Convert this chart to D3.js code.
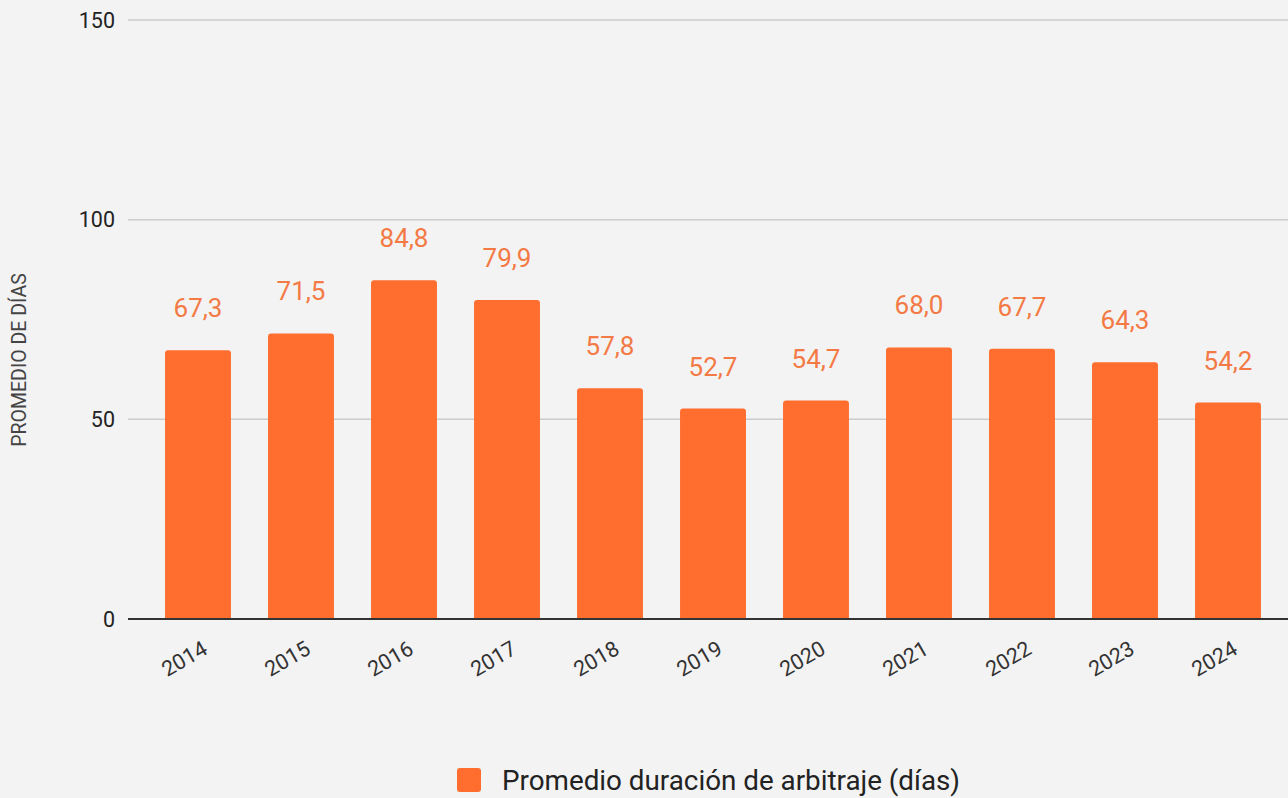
<!DOCTYPE html>
<html>
<head>
<meta charset="utf-8">
<script src="https://cdn.jsdelivr.net/npm/d3@7"></script>
<style>
  html, body { margin: 0; padding: 0; background: #f3f3f3; }
  svg { display: block; font-family: Roboto, "Noto Sans", sans-serif; }
</style>
</head>
<body>
<script>
// datos del gráfico
var years = ["2014","2015","2016","2017","2018","2019","2020","2021","2022","2023","2024"];
var avgDays = [67.3, 71.5, 84.8, 79.9, 57.8, 52.7, 54.7, 68.0, 67.7, 64.3, 54.2];
var yTicks = [0, 50, 100, 150];
var seriesName = "Promedio duración de arbitraje (días)";
var yTitle = "PROMEDIO DE DÍAS";

var width = 1288, height = 798;
var barColor = "#ff6d2f";
var labelColor = "#f47a45";

var svg = d3.select("body").append("svg")
            .attr("width", width)
            .attr("height", height);

svg.append("rect").attr("width", width).attr("height", height).attr("fill", "#f3f3f3");

var x = d3.scaleBand()
          .domain(years)
          .range([146.5, 1279.5])
          .paddingInner(0.36)
          .paddingOuter(0.18);

var y = d3.scaleLinear()
          .domain([0, 150])
          .range([619, 20]);

// lineas de cuadricula
svg.append("g").selectAll("line")
   .data(yTicks.filter(function(d){ return d > 0; }))
   .enter().append("line")
   .attr("x1", 128).attr("x2", width)
   .attr("y1", function(d){ return y(d); })
   .attr("y2", function(d){ return y(d); })
   .attr("stroke", "#cccccc")
   .attr("stroke-width", 1.5);

// etiquetas eje y
svg.append("g").selectAll("text")
   .data(yTicks)
   .enter().append("text")
   .attr("x", 115)
   .attr("y", function(d){ return y(d); })
   .attr("dy", "0.35em")
   .attr("text-anchor", "end")
   .attr("font-size", 21.5)
   .attr("fill", "#222")
   .text(function(d){ return d; });

// barras con esquinas superiores redondeadas
var r = 3;
function barPath(d, i) {
    var x0 = x(years[i]), w = x.bandwidth();
    var top = y(d), bottom = y(0);
    return "M" + x0 + "," + bottom +
           "V" + (top + r) +
           "Q" + x0 + "," + top + " " + (x0 + r) + "," + top +
           "H" + (x0 + w - r) +
           "Q" + (x0 + w) + "," + top + " " + (x0 + w) + "," + (top + r) +
           "V" + bottom + "Z";
}

svg.append("g").selectAll("path")
   .data(avgDays)
   .enter().append("path")
   .attr("d", barPath)
   .attr("fill", barColor);

// linea de base
svg.append("line")
   .attr("x1", 128).attr("x2", width)
   .attr("y1", y(0)).attr("y2", y(0))
   .attr("stroke", "#333")
   .attr("stroke-width", 2);

// etiquetas de datos
var fmt = function(v){ return v.toFixed(1).replace(".", ","); };
svg.append("g").selectAll("text")
   .data(avgDays)
   .enter().append("text")
   .attr("x", function(d, i){ return x(years[i]) + x.bandwidth() / 2; })
   .attr("y", function(d){ return y(d) - 33; })
   .attr("text-anchor", "middle")
   .attr("font-size", 26)
   .attr("fill", labelColor)
   .text(fmt);

// etiquetas eje x, rotadas
svg.append("g").selectAll("text")
   .data(years)
   .enter().append("text")
   .attr("transform", function(d){
       var cx = x(d) + x.bandwidth() / 2;
       return "translate(" + (cx + 11) + "," + 653 + ") rotate(-30)";
   })
   .attr("text-anchor", "end")
   .attr("font-size", 21.5)
   .attr("fill", "#333")
   .text(function(d){ return d; });

// titulo eje y
svg.append("text")
   .attr("transform", "translate(26," + 360 + ") rotate(-90)")
   .attr("text-anchor", "middle")
   .attr("font-size", 19.5)
   .attr("fill", "#444")
   .text(yTitle);

// leyenda
var legend = svg.append("g").attr("transform", "translate(457,768)");
legend.append("rect")
      .attr("width", 24).attr("height", 24)
      .attr("rx", 3)
      .attr("fill", barColor);
legend.append("text")
      .attr("x", 45).attr("y", 22)
      .attr("font-size", 27.8)
      .attr("fill", "#222")
      .text(seriesName);
</script>
</body>
</html>
